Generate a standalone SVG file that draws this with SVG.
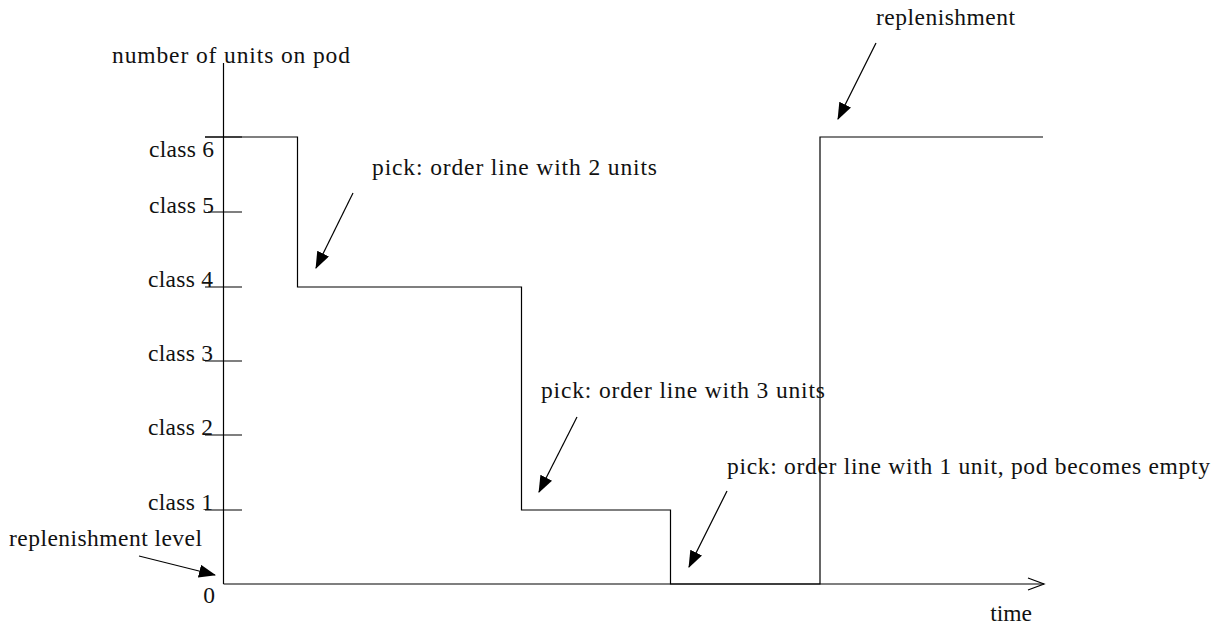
<svg xmlns="http://www.w3.org/2000/svg" width="1228" height="626" viewBox="0 0 1228 626">
<style>
text{font-family:"Liberation Serif","Times New Roman",serif;font-size:23.5px;fill:#111}
.ln{stroke:#000;stroke-width:1.2;fill:none}
.ar{stroke:#000;stroke-width:1.2;fill:none;marker-end:url(#ah)}
</style>
<defs>
<marker id="ah" markerUnits="userSpaceOnUse" markerWidth="18" markerHeight="14" refX="16" refY="6.5" orient="auto">
<path d="M0,0 L17,6.5 L0,13 Z" fill="#000"/>
</marker>
</defs>
<rect width="1228" height="626" fill="#fff"/>
<g id="axes">
<line class="ln" x1="223.5" y1="63" x2="223.5" y2="584"/>
<line class="ln" x1="223.5" y1="584" x2="1044" y2="584"/>
<polyline class="ln" points="1028,578 1044,584 1028,590"/>
<text x="112" y="63" textLength="238" lengthAdjust="spacing">number of units on pod</text>
<text x="1032" y="621" text-anchor="end">time</text>
<text x="215" y="603" text-anchor="end">0</text>
</g>
<g id="ticks">
<line class="ln" x1="205" y1="137" x2="242" y2="137"/>
<line class="ln" x1="208" y1="212" x2="242" y2="212"/>
<line class="ln" x1="205" y1="287" x2="242" y2="287"/>
<line class="ln" x1="205" y1="361" x2="242" y2="361"/>
<line class="ln" x1="205" y1="435" x2="242" y2="435"/>
<line class="ln" x1="205" y1="510" x2="242" y2="510"/>
<text x="149" y="157" textLength="65" lengthAdjust="spacing">class 6</text>
<text x="149" y="213" textLength="65" lengthAdjust="spacing">class 5</text>
<text x="148" y="287" textLength="65" lengthAdjust="spacing">class 4</text>
<text x="148" y="361" textLength="65" lengthAdjust="spacing">class 3</text>
<text x="148" y="435" textLength="65" lengthAdjust="spacing">class 2</text>
<text x="148" y="510" textLength="65" lengthAdjust="spacing">class 1</text>
</g>
<g id="stock-level">
<polyline class="ln" points="205,137 297.5,137 297.5,287 521.5,287 521.5,510 670.5,510 670.5,584 820,584 820,137 1043,137"/>
</g>
<g id="labels">
<text x="372" y="175" textLength="285" lengthAdjust="spacing">pick: order line with 2 units</text>
<text x="541" y="398" textLength="284" lengthAdjust="spacing">pick: order line with 3 units</text>
<text x="727" y="474" textLength="483" lengthAdjust="spacing">pick: order line with 1 unit, pod becomes empty</text>
<text x="876" y="25" textLength="139" lengthAdjust="spacing">replenishment</text>
<text x="9" y="546" textLength="193" lengthAdjust="spacing">replenishment level</text>
</g>
<g id="connectors">
<line class="ar" x1="353" y1="193" x2="316" y2="268"/>
<line class="ar" x1="577" y1="417" x2="539" y2="492"/>
<line class="ar" x1="727" y1="491" x2="689" y2="567"/>
<line class="ar" x1="876" y1="43" x2="838" y2="119"/>
<line class="ar" x1="139" y1="556" x2="215" y2="575"/>
</g>
</svg>
